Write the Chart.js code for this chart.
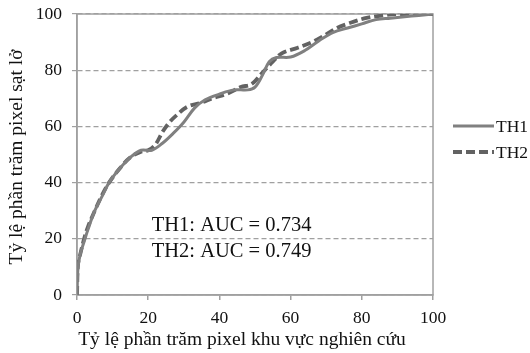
<!DOCTYPE html>
<html>
<head>
<meta charset="utf-8">
<script src="https://cdn.jsdelivr.net/npm/chart.js@4/dist/chart.umd.min.js"></script>
<style>
  html, body { margin: 0; padding: 0; background: #fff; }
</style>
</head>
<body>
<canvas id="rocChart" width="530" height="353"></canvas>
<script>
// dữ liệu đường ROC
const th1X = [0, 0.3, 1, 2, 3, 5, 7, 9, 12, 15, 18, 21, 24, 27, 30, 33, 36, 40, 44, 48, 50, 52, 54, 56, 60, 64, 68, 72, 76, 80, 84, 88, 92, 96, 100];
const th1Y = [0, 10, 15, 19, 23, 30, 35, 40, 45, 49, 51.5, 51.5, 54, 57.5, 61.5, 66.5, 69.5, 71.5, 73, 73, 74, 78, 83, 84.5, 84.7, 87, 90.5, 93.5, 95, 96.5, 98, 98.5, 99, 99.5, 100];
const th2X = [0, 0.3, 1, 2, 3, 5, 7, 9, 12, 15, 18, 20, 22, 24, 26, 28, 31, 35, 38, 42, 46, 49, 52, 55, 57.5, 62, 66, 69, 73, 76, 81, 86, 90, 100];
const th2Y = [0, 11, 15, 20, 24, 30, 35.5, 40, 45, 49, 51, 51.5, 53.5, 58, 61.5, 64, 67, 68.5, 70, 71.5, 74, 75, 79, 83, 86, 88, 90, 92, 95, 96.5, 98.5, 99.5, 100, 100];
const seriesNames = ["TH1", "TH2"];
const aucLabels = ["TH1: AUC = 0.734", "TH2: AUC = 0.749"];
const xTicks = [0, 20, 40, 60, 80, 100];
const yTicks = [0, 20, 40, 60, 80, 100];
const xTitle = "Tỷ lệ phần trăm pixel khu vực nghiên cứu";
const yTitle = "Tỷ lệ phần trăm pixel sạt lở";

const serif = "'Liberation Serif', 'Times New Roman', serif";

function toPoints(xs, ys) {
  return xs.map((x, i) => ({ x: x, y: ys[i] }));
}

// khung + chú thích + chữ AUC + tên trục
const extras = {
  id: "extras",
  beforeDatasetsDraw(chart) {
    const a = chart.chartArea;
    const ctx = chart.ctx;
    ctx.save();
    ctx.strokeStyle = "#a0a0a0";
    ctx.lineWidth = 1.5;
    ctx.strokeRect(a.left, a.top, a.right - a.left, a.bottom - a.top);
    ctx.restore();
  },
  afterDraw(chart) {
    const ctx = chart.ctx;
    const xs = chart.scales.x;
    ctx.save();
    ctx.fillStyle = "#111";
    ctx.textBaseline = "middle";
    ctx.textAlign = "left";
    // chữ AUC
    ctx.font = "20.5px " + serif;
    ctx.fillText(aucLabels[0], xs.getPixelForValue(21), 226);
    ctx.fillText(aucLabels[1], xs.getPixelForValue(21), 252);
    // tên trục
    ctx.font = "19.5px " + serif;
    ctx.textAlign = "center";
    ctx.fillText(xTitle, 242, 340);
    ctx.save();
    ctx.translate(17, 157);
    ctx.rotate(-Math.PI / 2);
    ctx.fillText(yTitle, 0, 0);
    ctx.restore();
    // chú thích
    ctx.textAlign = "left";
    chart.data.datasets.forEach((ds, i) => {
      const y = 126 + i * 26;
      ctx.strokeStyle = ds.borderColor;
      ctx.lineWidth = ds.borderWidth;
      ctx.setLineDash(ds.borderDash || []);
      ctx.beginPath();
      ctx.moveTo(453, y);
      ctx.lineTo(494, y);
      ctx.stroke();
      ctx.setLineDash([]);
      ctx.fillStyle = "#111";
      ctx.font = "17.5px " + serif;
      ctx.fillText(seriesNames[i], 496, y + 1);
    });
    ctx.restore();
  }
};

const ctx = document.getElementById("rocChart").getContext("2d");
new Chart(ctx, {
  type: "scatter",
  data: {
    datasets: [
      {
        label: seriesNames[0],
        data: toPoints(th1X, th1Y),
        showLine: true,
        borderColor: "#808080",
        borderWidth: 3,
        pointRadius: 0,
        tension: 0.35,
      },
      {
        label: seriesNames[1],
        data: toPoints(th2X, th2Y),
        showLine: true,
        borderColor: "#626262",
        borderWidth: 3.8,
        borderDash: [9, 4],
        pointRadius: 0,
        tension: 0.35,
      },
    ],
  },
  options: {
    responsive: false,
    animation: false,
    devicePixelRatio: 1,
    layout: { padding: { top: 14, right: 97, left: 0, bottom: 0 } },
    plugins: {
      legend: { display: false },
      tooltip: { enabled: false },
    },
    scales: {
      x: {
        type: "linear",
        min: 0,
        max: 100,
        afterBuildTicks(axis) {
          axis.ticks = xTicks.map((v) => ({ value: v }));
        },
        afterFit(axis) {
          axis.height = 58;
          axis.paddingLeft = 0;
          axis.paddingRight = 0;
        },
        border: { color: "#a0a0a0", width: 1.5 },
        grid: {
          drawOnChartArea: false,
          drawTicks: true,
          tickLength: 5,
          color: "#a0a0a0",
          lineWidth: 1.5,
        },
        ticks: {
          color: "#111",
          font: { family: serif, size: 17.5 },
          padding: 8,
          maxRotation: 0,
        },
      },
      y: {
        type: "linear",
        min: 0,
        max: 100,
        afterBuildTicks(axis) {
          axis.ticks = yTicks.map((v) => ({ value: v }));
        },
        afterFit(axis) {
          axis.width = 77;
          axis.paddingTop = 0;
          axis.paddingBottom = 0;
        },
        border: { color: "#a0a0a0", width: 1.5, dash: [5, 3] },
        grid: {
          color: "#a0a0a0",
          lineWidth: 1.2,
          tickBorderDash: [],
          tickLength: 5,
        },
        ticks: {
          color: "#111",
          font: { family: serif, size: 17.5 },
          padding: 10,
        },
      },
    },
  },
  plugins: [extras],
});
</script>
</body>
</html>
